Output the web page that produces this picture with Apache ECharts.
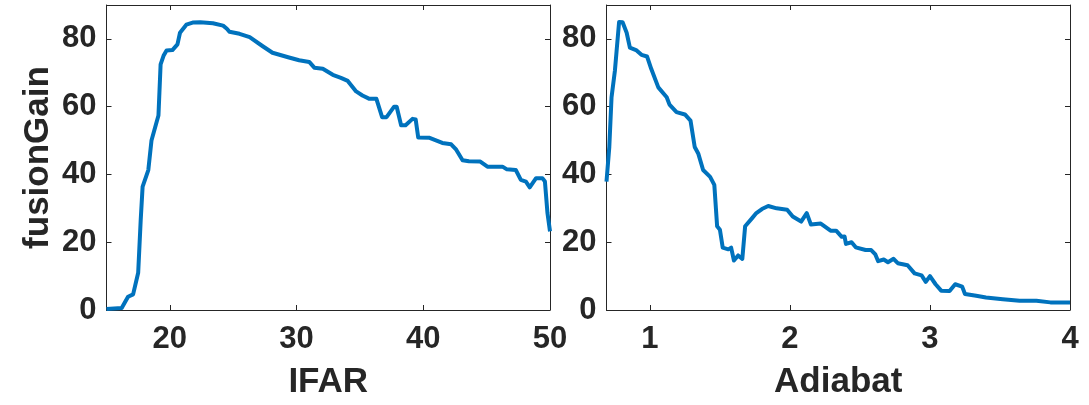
<!DOCTYPE html>
<html>
<head>
<meta charset="utf-8">
<script src="https://cdn.jsdelivr.net/npm/echarts@6/dist/echarts.min.js"></script>
<style>
  html, body { margin: 0; padding: 0; background: #fff; }
  #chart { width: 1089px; height: 405px; }
</style>
</head>
<body>
<div id="chart"></div>
<script>
// Fusion gain versus in-flight aspect ratio (left) and adiabat (right)
const ifar = [15, 16.2, 16.7, 17.1, 17.5, 17.7, 17.85, 18.3, 18.55, 18.95, 19.1, 19.27, 19.5, 19.74, 20.2, 20.6, 20.8, 21.3, 21.8, 22.4, 23.4, 24.2, 24.5, 24.7, 25.5, 26.3, 27.3, 28.1, 29.4, 30.2, 31.0, 31.4, 32.07, 32.86, 33.5, 34.04, 34.7, 35.2, 35.75, 36.3, 36.75, 37.1, 37.7, 37.9, 38.25, 38.6, 39.15, 39.4, 39.6, 40.5, 41.5, 42.2, 42.6, 43.1, 43.6, 44.5, 45.06, 46.25, 46.6, 47.3, 47.7, 48.1, 48.4, 48.9, 49.4, 49.6, 49.8, 50];
const gainVsIfar = [0.3, 0.6, 3.9, 4.6, 11, 26.6, 36.4, 41.3, 50, 55.4, 57.4, 72.5, 75, 76.6, 76.7, 78.4, 81.8, 84.2, 84.8, 84.9, 84.6, 83.9, 83.0, 82.1, 81.5, 80.5, 77.9, 75.9, 74.5, 73.7, 73.2, 71.5, 71.2, 69.4, 68.5, 67.6, 64.5, 63.3, 62.3, 62.3, 56.9, 56.9, 60, 60, 54.5, 54.5, 56.4, 56.2, 50.9, 50.8, 49.3, 48.9, 47.3, 44.2, 43.9, 43.8, 42.3, 42.3, 41.5, 41.3, 38.4, 37.9, 36.2, 38.9, 38.9, 37.9, 28.6, 23.2];

const adiabat = [0.69, 0.71, 0.726, 0.75, 0.762, 0.78, 0.805, 0.834, 0.857, 0.905, 0.94, 0.98, 1.01, 1.06, 1.12, 1.14, 1.19, 1.25, 1.29, 1.32, 1.345, 1.38, 1.43, 1.46, 1.48, 1.50, 1.52, 1.56, 1.58, 1.60, 1.63, 1.66, 1.68, 1.73, 1.76, 1.80, 1.845, 1.905, 1.98, 2.02, 2.08, 2.12, 2.15, 2.22, 2.29, 2.33, 2.37, 2.39, 2.40, 2.44, 2.47, 2.54, 2.58, 2.61, 2.63, 2.67, 2.70, 2.74, 2.77, 2.84, 2.89, 2.94, 2.97, 3.00, 3.04, 3.08, 3.14, 3.18, 3.23, 3.25, 3.33, 3.40, 3.52, 3.64, 3.76, 3.86, 4.0];
const gainVsAdiabat = [37.9, 48.1, 62.8, 70.6, 76.4, 85, 84.9, 81.8, 77.4, 76.6, 75.3, 74.8, 71.1, 65.7, 62.8, 60.6, 58.4, 57.7, 55.9, 48.1, 46.2, 41.3, 39.3, 36.9, 24.7, 23.7, 18.4, 17.9, 18.4, 14.6, 16.1, 15.1, 24.7, 27.1, 28.6, 29.8, 30.7, 30, 29.6, 27.6, 26.1, 28.6, 25.2, 25.5, 23.4, 23.4, 21.6, 21.7, 19.5, 20, 18.5, 17.7, 17.7, 16.4, 14.4, 14.9, 14.1, 15.1, 13.8, 13.2, 10.8, 10.2, 8.3, 10.0, 7.6, 5.7, 5.6, 7.6, 6.9, 4.7, 4.2, 3.7, 3.2, 2.7, 2.7, 2.25, 2.25];

const ifarTicks = [20, 30, 40, 50];
const adiabatTicks = [1, 2, 3, 4];
const gainTicks = [0, 20, 40, 60, 80];

const ink = '#262626';
const lineBlue = '#0072BD';
const font = 'Liberation Sans, Arial, Helvetica, sans-serif';
const tickFont = { color: ink, fontFamily: font, fontWeight: 'bold', fontSize: 31 };
const titleFont = { color: ink, fontFamily: font, fontWeight: 'bold', fontSize: 35 };

function pairs(xs, ys) {
  return xs.map((x, i) => [x, ys[i]]);
}

function xAxisPair(gridIndex, min, max, ticks, name) {
  const base = {
    type: 'value', gridIndex, min, max,
    splitLine: { show: false },
    axisLine: { show: true, onZero: false, lineStyle: { color: ink, width: 1 } },
    axisTick: { show: true, inside: true, length: 5, customValues: ticks, lineStyle: { color: ink, width: 1 } }
  };
  return [
    Object.assign({}, base, {
      position: 'bottom',
      name, nameLocation: 'middle', nameGap: 55,
      nameTextStyle: titleFont,
      axisLabel: Object.assign({ show: true, customValues: ticks, margin: 14 }, tickFont)
    }),
    Object.assign({}, base, { position: 'top', axisLabel: { show: false } })
  ];
}

function yAxisPair(gridIndex, name) {
  const base = {
    type: 'value', gridIndex, min: 0, max: 90,
    splitLine: { show: false },
    axisLine: { show: true, onZero: false, lineStyle: { color: ink, width: 1 } },
    axisTick: { show: true, inside: true, length: 5, customValues: gainTicks, lineStyle: { color: ink, width: 1 } }
  };
  return [
    Object.assign({}, base, {
      position: 'left',
      name: name || '', nameLocation: 'middle', nameGap: 51, nameRotate: 90,
      nameTextStyle: titleFont,
      axisLabel: Object.assign({ show: true, customValues: gainTicks, margin: 10 }, tickFont)
    }),
    Object.assign({}, base, { position: 'right', axisLabel: { show: false } })
  ];
}

const chart = echarts.init(document.getElementById('chart'), null, { renderer: 'canvas' });
chart.setOption({
  backgroundColor: '#ffffff',
  animation: false,
  grid: [
    { left: 106.5, top: 5, width: 443.5, height: 306.5 },
    { left: 606.5, top: 5, width: 463.5, height: 306.5 }
  ],
  xAxis: [
    ...xAxisPair(0, 15, 50, ifarTicks, 'IFAR'),
    ...xAxisPair(1, 0.69, 4, adiabatTicks, 'Adiabat')
  ],
  yAxis: [
    ...yAxisPair(0, 'fusionGain'),
    ...yAxisPair(1, '')
  ],
  series: [
    {
      type: 'line', xAxisIndex: 0, yAxisIndex: 0,
      data: pairs(ifar, gainVsIfar),
      showSymbol: false, clip: true,
      lineStyle: { color: lineBlue, width: 4, join: 'round' }
    },
    {
      type: 'line', xAxisIndex: 2, yAxisIndex: 2,
      data: pairs(adiabat, gainVsAdiabat),
      showSymbol: false, clip: true,
      lineStyle: { color: lineBlue, width: 4, join: 'round' }
    }
  ]
});
</script>
</body>
</html>
